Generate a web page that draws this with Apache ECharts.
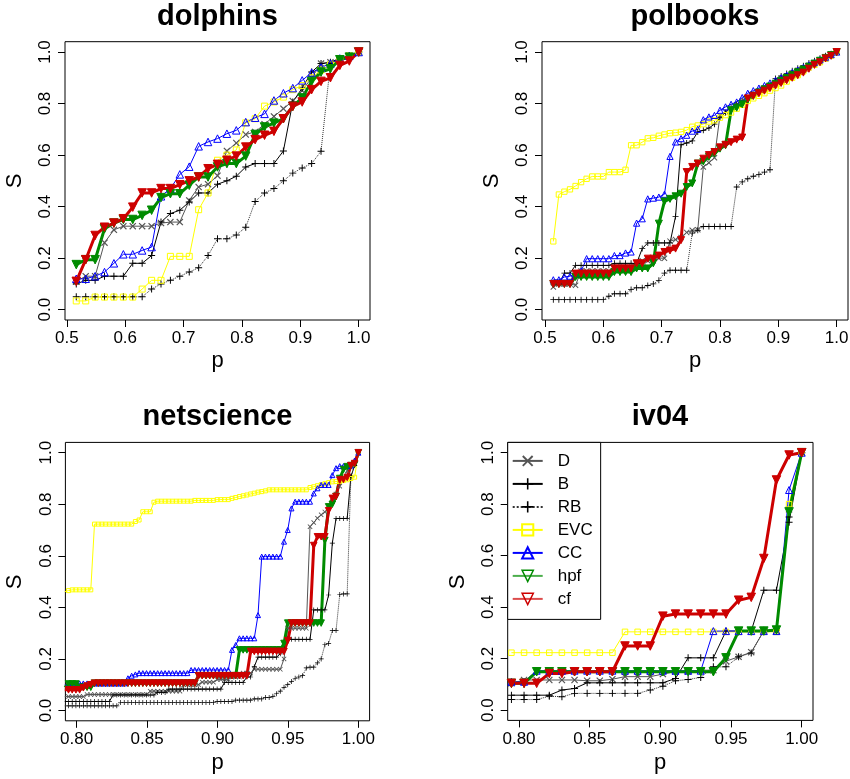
<!DOCTYPE html>
<html><head><meta charset="utf-8">
<script src="https://cdn.jsdelivr.net/npm/echarts@6/dist/echarts.min.js"></script>
<style>html,body{margin:0;padding:0;background:#fff}#c{width:850px;height:779px}</style>
</head><body><div id="c"></div>
<script>
// ---------- tick labels ----------
const seriesNames = ['D','B','RB','EVC','CC','hpf','cf'];
const xTicksHalf = [0.5,0.6,0.7,0.8,0.9,1.0];
const xTicksTail = [0.80,0.85,0.90,0.95,1.00];
const yTicks = [0,0.2,0.4,0.6,0.8,1.0];

// ---------- dolphins ----------
const dolphinsP = [0.5161,0.5323,0.5484,0.5645,0.5806,0.5968,0.6129,0.6290,0.6452,0.6613,0.6774,0.6935,0.7097,0.7258,0.7419,0.7581,0.7742,0.7903,0.8065,0.8226,0.8387,0.8548,0.8710,0.8871,0.9032,0.9194,0.9355,0.9516,0.9677,0.9839,1.0];
const dolphinsD = [0.11,0.13,0.13,0.26,0.31,0.324,0.324,0.324,0.324,0.336,0.34,0.34,0.424,0.476,0.487,0.52,0.616,0.647,0.68,0.69,0.72,0.75,0.78,0.81,0.85,0.9,0.955,0.96,0.975,0.985,1.0];
const dolphinsB = [0.10,0.114,0.114,0.13,0.13,0.13,0.18,0.18,0.21,0.34,0.373,0.386,0.418,0.453,0.453,0.487,0.5,0.518,0.554,0.567,0.567,0.567,0.616,0.806,0.86,0.922,0.955,0.96,0.975,0.985,1.0];
const dolphinsRB = [0.05,0.05,0.05,0.05,0.05,0.05,0.05,0.05,0.08,0.10,0.114,0.13,0.146,0.163,0.21,0.275,0.275,0.29,0.32,0.42,0.453,0.47,0.50,0.53,0.55,0.567,0.615,0.955,0.97,0.985,1.0];
const dolphinsEVC = [0.034,0.034,0.049,0.049,0.049,0.049,0.049,0.08,0.114,0.114,0.207,0.207,0.207,0.388,0.453,0.58,0.6,0.62,0.725,0.741,0.79,0.806,0.825,0.854,0.87,0.9,0.93,0.95,0.97,0.985,1.0];
const dolphinsCC = [0.12,0.12,0.13,0.146,0.18,0.215,0.215,0.23,0.243,0.44,0.47,0.525,0.555,0.634,0.651,0.664,0.683,0.696,0.728,0.745,0.76,0.812,0.84,0.86,0.89,0.92,0.94,0.955,0.975,0.985,1.0];
const dolphinsHpf = [0.175,0.194,0.194,0.314,0.336,0.35,0.35,0.366,0.386,0.435,0.45,0.45,0.483,0.515,0.515,0.554,0.567,0.567,0.596,0.68,0.709,0.724,0.741,0.789,0.822,0.886,0.922,0.935,0.97,0.98,1.0];
const dolphinsCf = [0.11,0.194,0.288,0.32,0.336,0.353,0.398,0.453,0.453,0.47,0.47,0.485,0.50,0.515,0.547,0.564,0.58,0.596,0.631,0.66,0.677,0.692,0.741,0.789,0.806,0.854,0.886,0.90,0.948,0.965,1.0];

// ---------- polbooks ----------
const polbooksP = [0.5143,0.5238,0.5333,0.5429,0.5524,0.5619,0.5714,0.5810,0.5905,0.6000,0.6095,0.6190,0.6286,0.6381,0.6476,0.6571,0.6667,0.6762,0.6857,0.6952,0.7048,0.7143,0.7238,0.7333,0.7429,0.7524,0.7619,0.7714,0.7810,0.7905,0.8000,0.8095,0.8190,0.8286,0.8381,0.8476,0.8571,0.8667,0.8762,0.8857,0.8952,0.9048,0.9143,0.9238,0.9333,0.9429,0.9524,0.9619,0.9714,0.9810,0.9905,1.0];
const polbooksD = [0.088,0.10,0.10,0.10,0.095,0.15,0.15,0.15,0.15,0.15,0.15,0.17,0.17,0.17,0.17,0.17,0.19,0.19,0.19,0.20,0.20,0.266,0.272,0.28,0.30,0.308,0.31,0.554,0.57,0.59,0.754,0.77,0.78,0.795,0.81,0.825,0.835,0.845,0.856,0.867,0.877,0.888,0.898,0.909,0.92,0.93,0.94,0.951,0.962,0.973,0.986,1.0];
const polbooksB = [0.10,0.10,0.142,0.142,0.172,0.172,0.172,0.172,0.172,0.172,0.172,0.18,0.18,0.18,0.18,0.18,0.237,0.259,0.259,0.259,0.259,0.259,0.362,0.64,0.647,0.655,0.69,0.696,0.705,0.72,0.745,0.765,0.785,0.797,0.81,0.822,0.835,0.846,0.857,0.868,0.879,0.89,0.9,0.91,0.921,0.932,0.943,0.955,0.966,0.977,0.988,1.0];
const polbooksRB = [0.039,0.039,0.039,0.039,0.039,0.039,0.039,0.039,0.039,0.039,0.052,0.062,0.062,0.062,0.078,0.085,0.085,0.094,0.10,0.114,0.142,0.153,0.153,0.153,0.153,0.297,0.308,0.323,0.323,0.323,0.323,0.323,0.323,0.476,0.496,0.508,0.518,0.525,0.534,0.543,0.897,0.907,0.917,0.927,0.937,0.947,0.957,0.966,0.976,0.985,0.993,1.0];
const polbooksEVC = [0.265,0.447,0.458,0.467,0.48,0.495,0.508,0.517,0.517,0.517,0.534,0.534,0.534,0.543,0.638,0.638,0.65,0.665,0.667,0.675,0.68,0.685,0.687,0.69,0.697,0.71,0.715,0.72,0.73,0.735,0.745,0.755,0.765,0.78,0.795,0.81,0.82,0.83,0.84,0.85,0.86,0.87,0.885,0.9,0.91,0.925,0.94,0.95,0.96,0.975,0.985,1.0];
const polbooksCC = [0.116,0.116,0.127,0.13,0.14,0.15,0.198,0.198,0.198,0.198,0.198,0.21,0.21,0.22,0.224,0.336,0.353,0.43,0.433,0.437,0.448,0.595,0.651,0.664,0.677,0.693,0.70,0.737,0.748,0.754,0.774,0.787,0.797,0.806,0.823,0.84,0.85,0.86,0.87,0.88,0.89,0.90,0.91,0.92,0.93,0.94,0.95,0.96,0.97,0.98,0.99,1.0];
const polbooksHpf = [0.10,0.10,0.10,0.10,0.127,0.127,0.127,0.127,0.127,0.127,0.127,0.146,0.146,0.146,0.146,0.16,0.16,0.16,0.18,0.334,0.42,0.43,0.44,0.45,0.476,0.49,0.567,0.575,0.593,0.606,0.625,0.638,0.774,0.784,0.797,0.815,0.83,0.843,0.855,0.866,0.877,0.888,0.899,0.91,0.921,0.932,0.943,0.955,0.966,0.977,0.988,1.0];
const polbooksCf = [0.10,0.10,0.10,0.10,0.14,0.14,0.14,0.14,0.14,0.14,0.14,0.16,0.16,0.16,0.16,0.18,0.18,0.198,0.198,0.21,0.224,0.23,0.237,0.27,0.534,0.554,0.567,0.586,0.6,0.612,0.63,0.64,0.65,0.66,0.668,0.82,0.83,0.84,0.85,0.86,0.87,0.88,0.89,0.90,0.91,0.92,0.935,0.95,0.96,0.975,0.985,1.0];

// ---------- netscience ----------
const netP = [0.79156,0.7942,0.79683,0.79947,0.80211,0.80475,0.80739,0.81003,0.81266,0.8153,0.81794,0.82058,0.82322,0.82586,0.8285,0.83113,0.83377,0.83641,0.83905,0.84169,0.84433,0.84697,0.8496,0.85224,0.85488,0.85752,0.86016,0.8628,0.86544,0.86807,0.87071,0.87335,0.87599,0.87863,0.88127,0.88391,0.88654,0.88918,0.89182,0.89446,0.8971,0.89974,0.90237,0.90501,0.90765,0.91029,0.91293,0.91557,0.91821,0.92084,0.92348,0.92612,0.92876,0.9314,0.93404,0.93668,0.93931,0.94195,0.94459,0.94723,0.94987,0.95251,0.95515,0.95778,0.96042,0.96306,0.9657,0.96834,0.97098,0.97361,0.97625,0.97889,0.98153,0.98417,0.98681,0.98945,0.99208,0.99472,0.99736,1.0];
const netD = [0.054,0.054,0.054,0.054,0.054,0.054,0.062,0.062,0.062,0.062,0.062,0.062,0.062,0.062,0.062,0.062,0.062,0.062,0.062,0.062,0.062,0.062,0.062,0.075,0.075,0.075,0.075,0.075,0.075,0.075,0.075,0.075,0.1,0.1,0.1,0.1,0.1,0.11,0.11,0.11,0.11,0.12,0.12,0.12,0.12,0.13,0.13,0.13,0.145,0.145,0.145,0.16,0.16,0.16,0.16,0.16,0.16,0.16,0.16,0.2,0.319,0.319,0.319,0.319,0.319,0.319,0.713,0.729,0.746,0.759,0.77,0.79,0.81,0.84,0.87,0.9,0.93,0.95,0.96,1.0];
const netB = [0.035,0.035,0.035,0.035,0.035,0.035,0.035,0.035,0.035,0.035,0.035,0.035,0.035,0.06,0.06,0.06,0.06,0.06,0.06,0.06,0.06,0.06,0.06,0.06,0.06,0.07,0.07,0.07,0.083,0.083,0.083,0.083,0.083,0.083,0.083,0.083,0.083,0.083,0.083,0.083,0.083,0.083,0.083,0.109,0.109,0.109,0.109,0.109,0.109,0.13,0.13,0.17,0.207,0.207,0.207,0.207,0.207,0.207,0.22,0.24,0.276,0.276,0.276,0.276,0.276,0.276,0.276,0.39,0.39,0.39,0.39,0.448,0.649,0.745,0.745,0.745,0.745,0.907,0.95,1.0];
const netRB = [0.018,0.018,0.018,0.018,0.018,0.018,0.018,0.018,0.018,0.018,0.018,0.018,0.018,0.018,0.018,0.031,0.031,0.031,0.031,0.031,0.031,0.031,0.031,0.031,0.031,0.031,0.031,0.031,0.031,0.031,0.031,0.031,0.031,0.031,0.031,0.031,0.031,0.031,0.031,0.031,0.031,0.035,0.035,0.035,0.035,0.035,0.04,0.04,0.04,0.04,0.04,0.045,0.045,0.045,0.05,0.05,0.055,0.065,0.075,0.09,0.1,0.112,0.125,0.13,0.135,0.165,0.168,0.168,0.185,0.2,0.255,0.26,0.31,0.31,0.45,0.452,0.452,0.91,0.95,1.0];
const netEVC = [0.461,0.465,0.468,0.468,0.468,0.468,0.468,0.468,0.723,0.723,0.723,0.723,0.723,0.723,0.723,0.723,0.723,0.723,0.723,0.733,0.739,0.771,0.771,0.771,0.808,0.812,0.812,0.812,0.812,0.812,0.812,0.812,0.812,0.812,0.812,0.815,0.815,0.815,0.815,0.815,0.815,0.818,0.818,0.818,0.818,0.823,0.826,0.83,0.833,0.836,0.84,0.843,0.847,0.849,0.852,0.856,0.856,0.856,0.856,0.856,0.856,0.856,0.856,0.856,0.856,0.856,0.865,0.868,0.872,0.876,0.88,0.884,0.887,0.888,0.889,0.892,0.895,0.9,0.905,1.0];
const netCC = [0.1,0.1,0.1,0.1,0.105,0.105,0.105,0.105,0.105,0.105,0.105,0.105,0.105,0.105,0.105,0.105,0.105,0.125,0.135,0.14,0.145,0.145,0.145,0.145,0.145,0.145,0.145,0.145,0.145,0.145,0.145,0.145,0.145,0.145,0.157,0.157,0.157,0.157,0.157,0.157,0.157,0.157,0.157,0.157,0.157,0.235,0.254,0.28,0.28,0.28,0.28,0.28,0.37,0.597,0.597,0.597,0.597,0.597,0.597,0.655,0.70,0.784,0.81,0.81,0.81,0.81,0.81,0.842,0.862,0.875,0.875,0.875,0.913,0.94,0.948,0.948,0.948,0.95,0.97,1.0];
const netHpf = [0.09,0.103,0.103,0.103,0.09,0.09,0.09,0.09,0.106,0.106,0.106,0.106,0.106,0.106,0.106,0.106,0.106,0.106,0.106,0.106,0.106,0.106,0.106,0.106,0.106,0.106,0.106,0.106,0.106,0.106,0.106,0.106,0.106,0.106,0.106,0.106,0.135,0.135,0.135,0.135,0.135,0.135,0.135,0.135,0.135,0.135,0.135,0.235,0.235,0.235,0.235,0.235,0.235,0.235,0.235,0.235,0.235,0.235,0.235,0.26,0.339,0.339,0.339,0.339,0.339,0.339,0.339,0.339,0.339,0.339,0.66,0.79,0.80,0.83,0.9,0.935,0.946,0.95,0.955,1.0];
const netCf = [0.08,0.08,0.08,0.08,0.08,0.088,0.095,0.10,0.106,0.106,0.106,0.106,0.106,0.106,0.106,0.106,0.106,0.106,0.106,0.106,0.106,0.106,0.106,0.106,0.106,0.106,0.106,0.106,0.106,0.106,0.106,0.106,0.106,0.106,0.106,0.106,0.135,0.135,0.135,0.135,0.135,0.135,0.135,0.135,0.135,0.135,0.135,0.135,0.135,0.135,0.229,0.229,0.229,0.229,0.229,0.229,0.229,0.229,0.229,0.229,0.271,0.339,0.339,0.339,0.339,0.339,0.339,0.64,0.674,0.674,0.674,0.775,0.823,0.83,0.894,0.896,0.904,0.95,0.958,1.0];

// ---------- iv04 ----------
const ivP = [0.79464,0.80357,0.8125,0.82143,0.83036,0.83929,0.84821,0.85714,0.86607,0.875,0.88393,0.89286,0.90179,0.91071,0.91964,0.92857,0.9375,0.94643,0.95536,0.96429,0.97321,0.98214,0.99107,1.0];
const ivD = [0.104,0.117,0.117,0.117,0.117,0.117,0.114,0.114,0.12,0.13,0.13,0.13,0.14,0.15,0.15,0.155,0.155,0.19,0.207,0.225,0.307,0.307,0.78,1.0];
const ivB = [0.058,0.058,0.058,0.058,0.078,0.084,0.106,0.106,0.106,0.106,0.106,0.106,0.106,0.123,0.203,0.203,0.203,0.307,0.307,0.307,0.466,0.466,0.73,1.0];
const ivRB = [0.041,0.041,0.041,0.054,0.052,0.065,0.065,0.065,0.065,0.065,0.065,0.078,0.093,0.114,0.119,0.127,0.168,0.168,0.207,0.222,0.31,0.31,0.75,1.0];
const ivEVC = [0.223,0.223,0.223,0.223,0.223,0.223,0.223,0.223,0.223,0.304,0.304,0.304,0.304,0.304,0.304,0.304,0.304,0.304,0.304,0.304,0.304,0.304,0.8,1.0];
const ivCC = [0.11,0.11,0.153,0.153,0.153,0.153,0.153,0.153,0.153,0.153,0.153,0.153,0.153,0.153,0.153,0.153,0.307,0.307,0.307,0.307,0.307,0.307,0.855,1.0];
const ivHpf = [0.104,0.104,0.149,0.149,0.149,0.149,0.149,0.149,0.149,0.149,0.149,0.149,0.149,0.149,0.149,0.149,0.149,0.203,0.307,0.307,0.307,0.311,0.77,1.0];
const ivCf = [0.104,0.104,0.104,0.142,0.142,0.149,0.149,0.149,0.149,0.249,0.249,0.249,0.365,0.373,0.373,0.373,0.373,0.373,0.427,0.438,0.589,0.894,0.991,1.0];

// ---------- styling ----------
const FONT = '"Liberation Sans", Arial, Helvetica, sans-serif';
const XPATH = 'path://M0,1.2L1.2,0L5,3.8L8.8,0L10,1.2L6.2,5L10,8.8L8.8,10L5,6.2L1.2,10L0,8.8L3.8,5Z';
const PLUSPATH = 'path://M4.3,0H5.7V4.3H10V5.7H5.7V10H4.3V5.7H0V4.3H4.3Z';
const DOWNTRI = 'path://M0,0L10,0L5,8.7Z';
const CLEAR = 'rgba(255,255,255,0)';
const COL = {D:'#555555', B:'#000000', RB:'#000000', EVC:'#ffff00', CC:'#0000ff', hpf:'#008b00', cf:'#cd0000'};

function styleFor(name, sz) {
  switch (name) {
    case 'D': return {symbol: XPATH, symbolSize: sz.cross, itemStyle:{color:COL.D}, lineStyle:{color:COL.D, width:1}};
    case 'B': return {symbol: PLUSPATH, symbolSize: sz.cross, itemStyle:{color:COL.B}, lineStyle:{color:COL.B, width:1}};
    case 'RB': return {symbol: PLUSPATH, symbolSize: sz.cross, itemStyle:{color:COL.RB}, lineStyle:{color:'#333', width:1, type:'dotted'}};
    case 'EVC': return {symbol: 'rect', symbolSize: sz.sq, itemStyle:{color:CLEAR, borderColor:COL.EVC, borderWidth:1}, lineStyle:{color:COL.EVC, width:1}};
    case 'CC': return {symbol: 'triangle', symbolSize: sz.tri, itemStyle:{color:CLEAR, borderColor:COL.CC, borderWidth:1}, lineStyle:{color:COL.CC, width:1}};
    case 'hpf': return {symbol: DOWNTRI, symbolSize: sz.down, itemStyle:{color:COL.hpf, borderColor:COL.hpf, borderWidth:1}, lineStyle:{color:COL.hpf, width:3}};
    case 'cf': return {symbol: DOWNTRI, symbolSize: sz.down, itemStyle:{color:COL.cf, borderColor:COL.cf, borderWidth:1}, lineStyle:{color:COL.cf, width:3}};
  }
}

const panels = [
  {title:'dolphins', p:dolphinsP, ys:{D:dolphinsD,B:dolphinsB,RB:dolphinsRB,EVC:dolphinsEVC,CC:dolphinsCC,hpf:dolphinsHpf,cf:dolphinsCf},
   grid:{left:65, top:41.7, width:305, height:278.3}, xmin:0.4968, xmax:1.0194, xticks:xTicksHalf, xdec:1,
   sz:{sq:6, tri:7.5, down:8.5, cross:7}, t:[217.5,17], px:[217.5,361], sx:[15,181]},
  {title:'polbooks', p:polbooksP, ys:{D:polbooksD,B:polbooksB,RB:polbooksRB,EVC:polbooksEVC,CC:polbooksCC,hpf:polbooksHpf,cf:polbooksCf},
   grid:{left:542, top:41.7, width:306, height:278.3}, xmin:0.4949, xmax:1.0194, xticks:xTicksHalf, xdec:1,
   sz:{sq:5.3, tri:6.2, down:7, cross:6}, t:[695,17], px:[695,361], sx:[492,181]},
  {title:'netscience', p:netP, ys:{D:netD,B:netB,RB:netRB,EVC:netEVC,CC:netCC,hpf:netHpf,cf:netCf},
   grid:{left:65.4, top:442.4, width:304.2, height:278.4}, xmin:0.792, xmax:1.008, xticks:xTicksTail, xdec:2,
   sz:{sq:4, tri:5, down:6.5, cross:5}, t:[217.5,417], px:[217.5,763], sx:[15,582]},
  {title:'iv04', p:ivP, ys:{D:ivD,B:ivB,RB:ivRB,EVC:ivEVC,CC:ivCC,hpf:ivHpf,cf:ivCf},
   grid:{left:507.7, top:442.4, width:305.3, height:278}, xmin:0.792, xmax:1.008, xticks:xTicksTail, xdec:2,
   sz:{sq:5.5, tri:7, down:8.5, cross:7}, t:[660,417], px:[660,763], sx:[458,582]}
];

const grids = [], xAxes = [], yAxes = [], series = [], graphics = [];
panels.forEach((pn, gi) => {
  grids.push(Object.assign({show:true, borderColor:'#000', borderWidth:1, backgroundColor:'transparent', containLabel:false, outerBoundsMode:'none'}, pn.grid));
  xAxes.push({type:'value', gridIndex:gi, min:pn.xmin, max:pn.xmax, position:'bottom',
    axisLine:{show:false, onZero:false},
    axisTick:{show:true, inside:false, length:7, customValues:pn.xticks, lineStyle:{color:'#000', width:1}},
    axisLabel:{show:true, customValues:pn.xticks, formatter:v => Number(v).toFixed(pn.xdec), fontSize:17, color:'#000', fontFamily:FONT, margin:10},
    splitLine:{show:false}});
  yAxes.push({type:'value', gridIndex:gi, min:-0.04, max:1.04, position:'left',
    axisLine:{show:false, onZero:false},
    axisTick:{show:true, inside:false, length:7, customValues:yTicks, lineStyle:{color:'#000', width:1}},
    axisLabel:{show:true, customValues:yTicks, rotate:90, formatter:v => Number(v).toFixed(1), fontSize:17, color:'#000', fontFamily:FONT, margin:11},
    splitLine:{show:false}});
  seriesNames.forEach(name => {
    const ys = pn.ys[name];
    series.push(Object.assign({
      type:'line', name, xAxisIndex:gi, yAxisIndex:gi,
      data: pn.p.map((x, j) => [x, ys[j]]),
      showSymbol:true, showAllSymbol:true, animation:false, silent:true,
      emphasis:{disabled:true}, clip:true
    }, styleFor(name, pn.sz)));
  });
  graphics.push({type:'text', x:pn.t[0], y:pn.t[1], silent:true,
    style:{text:pn.title, font:'bold 29px ' + FONT, fill:'#000', align:'center', verticalAlign:'middle'}});
  graphics.push({type:'text', x:pn.px[0], y:pn.px[1], silent:true,
    style:{text:'p', font:'22px ' + FONT, fill:'#000', align:'center', verticalAlign:'middle'}});
  graphics.push({type:'text', x:pn.sx[0], y:pn.sx[1], rotation:Math.PI/2, silent:true,
    style:{text:'S', font:'22px ' + FONT, fill:'#000', align:'center', verticalAlign:'middle'}});
});

const legendData = seriesNames.map(n => (n === 'hpf' || n === 'cf')
  ? {name:n, itemStyle:{color:CLEAR, borderColor:COL[n], borderWidth:1.5}, lineStyle:{color:COL[n], width:2, opacity:0.7}}
  : n);

const chart = echarts.init(document.getElementById('c'), null, {renderer:'canvas'});
chart.setOption({
  backgroundColor:'#fff',
  animation:false,
  grid:grids, xAxis:xAxes, yAxis:yAxes, series,
  graphic:graphics,
  legend:{show:true, data:legendData, orient:'vertical', left:507.7, top:442.4,
    padding:[10,8,12,4], itemWidth:30, itemHeight:14, itemGap:6,
    borderColor:'#000', borderWidth:1, borderRadius:0, backgroundColor:'#fff',
    selectedMode:false,
    textStyle:{fontSize:17, fontFamily:FONT, color:'#000', padding:[0,0,0,10]}}
});
</script>
</body></html>
